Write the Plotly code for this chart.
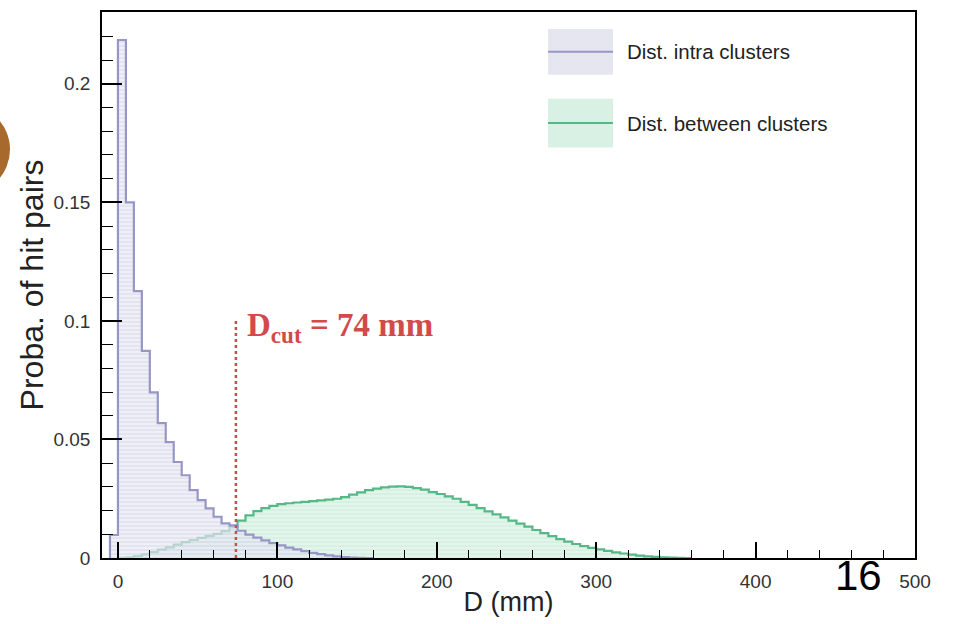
import plotly.graph_objects as go

# ---------------- data ----------------
bin_width = 5
intra_start = -5
intra_values = [0.0097, 0.2185, 0.150, 0.1126, 0.0874, 0.0699, 0.0569, 0.0489, 0.0405,
                0.0349, 0.0286, 0.0244, 0.0209, 0.0174, 0.0146, 0.0138, 0.0115, 0.0099,
                0.0086, 0.0074, 0.0063, 0.0053, 0.0044, 0.0036, 0.0029, 0.0022, 0.0016,
                0.0011, 0.0007, 0.0004, 0.0002, 0.0001, 0.0]
between_start = 0
between_values = [0.0001, 0.0003, 0.0008, 0.0015, 0.0025, 0.0035, 0.0045, 0.0056, 0.0067,
                  0.0076, 0.0085, 0.0093, 0.0102, 0.0113, 0.0130, 0.0158, 0.0180, 0.0198,
                  0.0210, 0.0220, 0.0227, 0.0231, 0.0234, 0.0237, 0.0240, 0.0243, 0.0246,
                  0.0250, 0.0257, 0.0267, 0.0277, 0.0286, 0.0293, 0.0298, 0.0301, 0.0302,
                  0.0300, 0.0295, 0.0288, 0.0278, 0.0270, 0.0260, 0.0250, 0.0237, 0.0224,
                  0.0210, 0.0197, 0.0184, 0.0171, 0.0158, 0.0145, 0.0132, 0.0118, 0.0105,
                  0.0092, 0.0080, 0.0069, 0.0059, 0.0050, 0.0043, 0.0036, 0.0030, 0.0024,
                  0.0019, 0.0014, 0.0010, 0.0007, 0.0005, 0.0003, 0.0002, 0.0001, 0.0]
dcut = 74
dcut_top = 0.101
dcut_label = "<b>D<sub>cut</sub> = 74 mm</b>"
legend_labels = ["Dist. intra clusters", "Dist. between clusters"]
x_ticks = [0, 100, 200, 300, 400, 500]
y_ticks = [0, 0.05, 0.1, 0.15, 0.2]
x_title = "D (mm)"
y_title = "Proba. of hit pairs"
page_number = "16"


def step_xy(start, values):
    xs = [start]
    ys = [0]
    for i, v in enumerate(values):
        xs.append(start + i * bin_width)
        ys.append(v)
    xs.append(start + len(values) * bin_width)
    ys.append(values[-1])
    xs.append(start + len(values) * bin_width)
    ys.append(0)
    return xs, ys


intra_col = "#9797c6"
between_col = "#56b886"
red = "#d24a4a"

fig = go.Figure()

bx, by = step_xy(between_start, between_values)
fig.add_trace(go.Scatter(
    x=bx, y=by, mode="lines", line=dict(color=between_col, width=2.2, shape="hv"),
    fill="tozeroy", fillcolor="rgba(208,238,222,0.8)",
    fillpattern=dict(shape="-", fgcolor="rgba(182,224,202,0.9)", bgcolor="rgba(218,242,229,0.75)",
                     size=4, solidity=0.3),
    showlegend=False, hoverinfo="skip"))

ix, iy = step_xy(intra_start, intra_values)
fig.add_trace(go.Scatter(
    x=ix, y=iy, mode="lines", line=dict(color=intra_col, width=2.2, shape="hv"),
    fill="tozeroy", fillcolor="rgba(224,224,238,0.7)",
    fillpattern=dict(shape="-", fgcolor="rgba(200,200,222,0.9)", bgcolor="rgba(230,230,242,0.65)",
                     size=4, solidity=0.3),
    showlegend=False, hoverinfo="skip"))

fig.add_trace(go.Scatter(
    x=[dcut, dcut], y=[0, dcut_top], mode="lines",
    line=dict(color=red, width=2.5, dash="3px,3px"), showlegend=False, hoverinfo="skip"))

fig.add_annotation(x=dcut + 6, y=0.0972, xref="x", yref="y", text=dcut_label,
                   showarrow=False, xanchor="left", yanchor="middle",
                   font=dict(family="Liberation Serif", size=33, color=red))

# manual legend
L = 102.0
W = 813.0
B = 558.0
H = 548.0


def px(xp):
    return (xp - L) / W


def py(yp):
    return (B - yp) / H


legend_rows = [(27, 73, intra_col, "rgb(230,230,241)"), (97, 146, between_col, "rgb(216,241,228)")]
for (top, bot, lc, fc), label in zip(legend_rows, legend_labels):
    fig.add_shape(type="rect", xref="paper", yref="paper", x0=px(548), x1=px(613),
                  y0=py(bot), y1=py(top), fillcolor=fc, line=dict(width=0), layer="above")
    mid = (top + bot) / 2
    fig.add_shape(type="line", xref="paper", yref="paper", x0=px(548), x1=px(613),
                  y0=py(mid), y1=py(mid), line=dict(color=lc, width=2), layer="above")
    fig.add_annotation(x=px(625), y=py(mid), xref="paper", yref="paper", text=label,
                       showarrow=False, xanchor="left", yanchor="middle",
                       font=dict(family="Liberation Sans", size=20.5, color="#222"))

# page number and slide decoration
fig.add_annotation(x=px(858), y=py(576), xref="paper", yref="paper", text=page_number,
                   showarrow=False, xanchor="center", yanchor="middle",
                   font=dict(family="Liberation Sans", size=42, color="#000"))
fig.add_shape(type="circle", xref="paper", yref="paper", x0=px(-80), x1=px(10),
              y0=py(193), y1=py(103), fillcolor="#a8692c", line=dict(width=0), layer="above")

axis_common = dict(showline=True, linecolor="black", linewidth=1.5, mirror=True,
                   showgrid=False, zeroline=False, ticks="inside", tickcolor="black",
                   tickfont=dict(family="Liberation Sans", size=19, color="#333"))

fig.update_xaxes(range=[-10, 500], tickvals=x_ticks, ticklen=16, tickwidth=1.5,
                 minor=dict(dtick=20, ticklen=8, tickcolor="black", ticks="inside", tickwidth=1.2),
                 title=dict(text=x_title, font=dict(family="Liberation Sans", size=27, color="#222"),
                            standoff=2),
                 ticklabelstandoff=5, **axis_common)
fig.update_yaxes(range=[0, 0.2303], tickvals=y_ticks, ticklen=20, tickwidth=1.5,
                 minor=dict(dtick=0.01, ticklen=11, tickcolor="black", ticks="inside", tickwidth=1.2),
                 title=dict(text=y_title, font=dict(family="Liberation Sans", size=32, color="#222"),
                            standoff=0),
                 ticklabelstandoff=6, **axis_common)

fig.update_layout(width=957, height=624, plot_bgcolor="white", paper_bgcolor="white",
                  margin=dict(l=102, r=42, t=10, b=66), showlegend=False)

fig.write_html("out.html")
